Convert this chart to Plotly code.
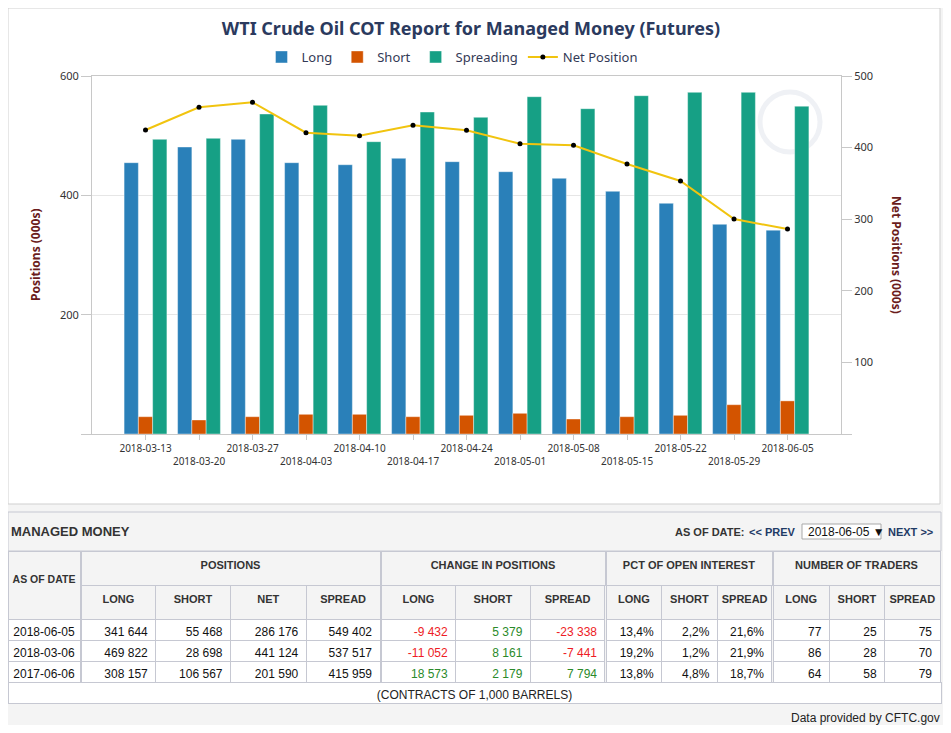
import plotly.graph_objects as go

# weekly COT data, managed money (thousands of contracts)
dates = ["2018-03-13", "2018-03-20", "2018-03-27", "2018-04-03", "2018-04-10",
         "2018-04-17", "2018-04-24", "2018-05-01", "2018-05-08", "2018-05-15",
         "2018-05-22", "2018-05-29", "2018-06-05"]
long_k = [454.7, 481.0, 493.8, 454.7, 451.3, 462.0, 456.4, 439.6, 428.5, 406.7, 386.6, 351.4, 341.6]
short_k = [29.0, 23.5, 29.0, 33.0, 33.0, 29.0, 31.3, 34.7, 25.1, 29.0, 31.3, 49.1, 55.5]
spread_k = [493.8, 495.5, 536.3, 550.8, 489.9, 539.6, 530.7, 565.3, 545.2, 567.0, 572.6, 572.6, 549.4]
net_k = [424.6, 456.3, 463.3, 420.8, 416.6, 431.1, 424.2, 405.5, 403.2, 377.1, 353.4, 300.3, 286.2]

# table below the chart
table_dates = ["2018-06-05", "2018-03-06", "2017-06-06"]
pos_long = [341644, 469822, 308157]
pos_short = [55468, 28698, 106567]
pos_net = [286176, 441124, 201590]
pos_spread = [549402, 537517, 415959]
chg_long = [-9432, -11052, 18573]
chg_short = [5379, 8161, 2179]
chg_spread = [-23338, -7441, 7794]
pct_long = [13.4, 19.2, 13.8]
pct_short = [2.2, 1.2, 4.8]
pct_spread = [21.6, 21.9, 18.7]
trd_long = [77, 86, 64]
trd_short = [25, 28, 58]
trd_spread = [75, 70, 79]

W, H = 935, 717
OFF = 8


def fx(x):
    return min(1, max(0, (x - OFF) / W))


def fy(y):
    return min(1, max(0, 1 - (y - OFF) / H))


def num(v):
    return f"{v:,}".replace(",", " ")


def pct(v):
    return f"{v:.1f}%".replace(".", ",")


def chg_color(v):
    return "#ee1c25" if v < 0 else "#2a8a2a"


FONT = "Noto Sans"
TFONT = "Liberation Sans"
LINE = "#c6c8d2"
HEAD_BG = "#f4f4f4"
BASE = "#111"

# group name, sub headers, formatted columns, font colours, pixel span, column widths
table_groups = [
    ("POSITIONS", ["LONG", "SHORT", "NET", "SPREAD"],
     [[num(v) for v in pos_long], [num(v) for v in pos_short],
      [num(v) for v in pos_net], [num(v) for v in pos_spread]],
     [[BASE] * 3] * 4, (81, 380), [75, 75, 76, 74]),
    ("CHANGE IN POSITIONS", ["LONG", "SHORT", "SPREAD"],
     [[num(v) for v in chg_long], [num(v) for v in chg_short],
      [num(v) for v in chg_spread]],
     [[chg_color(v) for v in chg_long], [chg_color(v) for v in chg_short],
      [chg_color(v) for v in chg_spread]], (381, 605), [75, 75, 75]),
    ("PCT OF OPEN INTEREST", ["LONG", "SHORT", "SPREAD"],
     [[pct(v) for v in pct_long], [pct(v) for v in pct_short],
      [pct(v) for v in pct_spread]],
     [[BASE] * 3] * 3, (606, 772), [56, 56, 55]),
    ("NUMBER OF TRADERS", ["LONG", "SHORT", "SPREAD"],
     [[str(v) for v in trd_long], [str(v) for v in trd_short],
      [str(v) for v in trd_spread]],
     [[BASE] * 3] * 3, (773, 941), [57, 56, 56]),
]

fig = go.Figure()

fig.add_trace(go.Bar(x=dates, y=long_k, name="Long", marker_color="#2a80b9",
                     marker_line=dict(color="rgba(255,255,255,0.4)", width=1)))
fig.add_trace(go.Bar(x=dates, y=short_k, name="Short", marker_color="#d35400",
                     marker_line=dict(color="rgba(255,255,255,0.4)", width=1)))
fig.add_trace(go.Bar(x=dates, y=spread_k, name="Spreading", marker_color="#16a085",
                     marker_line=dict(color="rgba(255,255,255,0.4)", width=1)))
fig.add_trace(go.Scatter(x=dates, y=net_k, name="Net Position", yaxis="y2",
                         mode="lines+markers",
                         line=dict(color="#f1c40f", width=2),
                         marker=dict(color="black", size=5)))

head_font = dict(family=TFONT, size=11, color="#333")

fig.add_trace(go.Table(
    domain=dict(x=[fx(3), fx(80)], y=[fy(685), fy(551)]),
    header=dict(values=["\u00a0<br><b>AS\u00a0OF\u00a0DATE</b>"], height=68,
                fill_color=HEAD_BG, line_color=LINE, align="center",
                font=dict(family=TFONT, size=10.5, color="#333")),
    cells=dict(values=[table_dates], height=21, fill_color="white",
               line_color=LINE, align="center",
               font=dict(family=TFONT, size=12, color=BASE)),
))

for name, subs, vals, cols, (x0, x1), widths in table_groups:
    fig.add_trace(go.Table(
        domain=dict(x=[fx(x0), fx(x1)], y=[fy(587), fy(551)]),
        header=dict(values=[f"<b>{name}</b>"], height=34, fill_color=HEAD_BG,
                    line_color=LINE, align="center", font=head_font),
        cells=dict(values=[[]]),
    ))
    fig.add_trace(go.Table(
        domain=dict(x=[fx(x0), fx(x1)], y=[fy(685), fy(585)]),
        columnwidth=widths,
        header=dict(values=[f"<b>{s}</b>" for s in subs], height=34,
                    fill_color=HEAD_BG, line_color=LINE, align="center",
                    font=head_font),
        cells=dict(values=vals, height=21, fill_color="white", line_color=LINE,
                   align="right", font=dict(family=TFONT, size=12, color=cols)),
    ))

fig.add_trace(go.Table(
    domain=dict(x=[fx(3), fx(941)], y=[fy(706), fy(682)]),
    header=dict(values=["(CONTRACTS OF 1,000 BARRELS)"], height=21,
                fill_color="white", line_color=LINE, align="center",
                font=dict(family=TFONT, size=12, color="#222")),
    cells=dict(values=[[]]),
))

shapes = [
    # chart panel
    dict(type="rect", xref="paper", yref="paper", x0=fx(3), x1=fx(940),
         y0=fy(504), y1=fy(3), fillcolor="white",
         line=dict(color="#cfcfcf", width=1), layer="below"),
    # table title bar
    dict(type="rect", xref="paper", yref="paper", x0=fx(3), x1=fx(941),
         y0=fy(551), y1=fy(512), fillcolor=HEAD_BG,
         line=dict(color=LINE, width=1), layer="below"),
    # date picker box
    dict(type="rect", xref="paper", yref="paper", x0=fx(802), x1=fx(881),
         y0=fy(539), y1=fy(524), fillcolor="white",
         line=dict(color="#a9a9a9", width=1), layer="below"),
    # faint watermark ring
    dict(type="circle", xref="paper", yref="paper", x0=fx(760), x1=fx(820),
         y0=fy(152), y1=fy(92), line=dict(color="rgba(214,221,230,0.4)", width=5),
         layer="below"),
]

annotations = [
    dict(text="<b>Positions (000s)</b>", x=fx(36), y=fy(255), textangle=-90,
         font=dict(family=FONT, size=12, color="#6b1c1c")),
    dict(text="<b>Net Positions (000s)</b>", x=fx(896), y=fy(255), textangle=90,
         font=dict(family=FONT, size=12, color="#6b1c1c")),
    dict(text="<b>MANAGED MONEY</b>", x=fx(9), y=fy(531), xanchor="left",
         font=dict(family=TFONT, size=13, color="#333")),
    dict(text="<b>AS OF DATE:</b>", x=fx(746), y=fy(532), xanchor="right",
         font=dict(family=TFONT, size=11, color="#333")),
    dict(text="<b>&lt;&lt; PREV</b>", x=fx(798), y=fy(532), xanchor="right",
         font=dict(family=TFONT, size=11, color="#1f3b66")),
    dict(text="2018-06-05 ▼", x=fx(806), y=fy(532), xanchor="left",
         font=dict(family=TFONT, size=12, color="#111")),
    dict(text="<b>NEXT &gt;&gt;</b>", x=fx(886), y=fy(532), xanchor="left",
         font=dict(family=TFONT, size=11, color="#1f3b66")),
    dict(text="Data provided by CFTC.gov", x=fx(942), y=fy(718), xanchor="right",
         font=dict(family=TFONT, size=12, color="#222")),
]
for a in annotations:
    a.setdefault("xanchor", "center")
    a.update(xref="paper", yref="paper", showarrow=False, yanchor="middle")

ticktext = [d if i % 2 == 0 else "<br>" + d for i, d in enumerate(dates)]

fig.update_layout(
    width=W, height=H,
    margin=dict(l=0, r=0, t=0, b=0, autoexpand=False),
    paper_bgcolor="#f4f4f4",
    plot_bgcolor="rgba(0,0,0,0)",
    font=dict(family=FONT, color="#333"),
    barmode="group", bargap=0.2, bargroupgap=0,
    title=dict(text="<b>WTI Crude Oil COT Report for Managed Money (Futures)</b>",
               x=fx(471), y=fy(29), xanchor="center", yanchor="middle",
               font=dict(family=FONT, size=18, color="#2b3a5e")),
    legend=dict(orientation="h", x=fx(452), y=fy(57), xanchor="center",
                yanchor="middle", font=dict(family=FONT, size=13, color="#333a56"),
                bgcolor="rgba(0,0,0,0)"),
    xaxis=dict(domain=[fx(92), fx(841)], type="category", range=[-1, 13],
               tickvals=dates, ticktext=ticktext, tickangle=0, automargin=False,
               ticks="outside", ticklen=5,
               tickcolor="#c8c8c8", showline=True, linecolor="#c8c8c8",
               mirror=True, showgrid=False,
               tickfont=dict(family=FONT, size=10, color="#333")),
    yaxis=dict(domain=[fy(434), fy(76)], range=[0, 600], automargin=False,
               tickvals=[0, 200, 400, 600], ticktext=["", "200", "400", "600"],
               ticks="outside", ticklen=10, tickcolor="#c8c8c8",
               showline=True, linecolor="#c8c8c8", gridcolor="#e6e6e6",
               zeroline=False, tickfont=dict(family=FONT, size=11, color="#333")),
    yaxis2=dict(overlaying="y", side="right", range=[0, 500], automargin=False,
                tickvals=[0, 100, 200, 300, 400, 500],
                ticktext=["", "100", "200", "300", "400", "500"],
                ticks="outside", ticklen=10, tickcolor="#c8c8c8",
                showline=True, linecolor="#c8c8c8", showgrid=False,
                zeroline=False, tickfont=dict(family=FONT, size=11, color="#333")),
    shapes=shapes,
    annotations=annotations,
)

fig.write_html("out.html")
